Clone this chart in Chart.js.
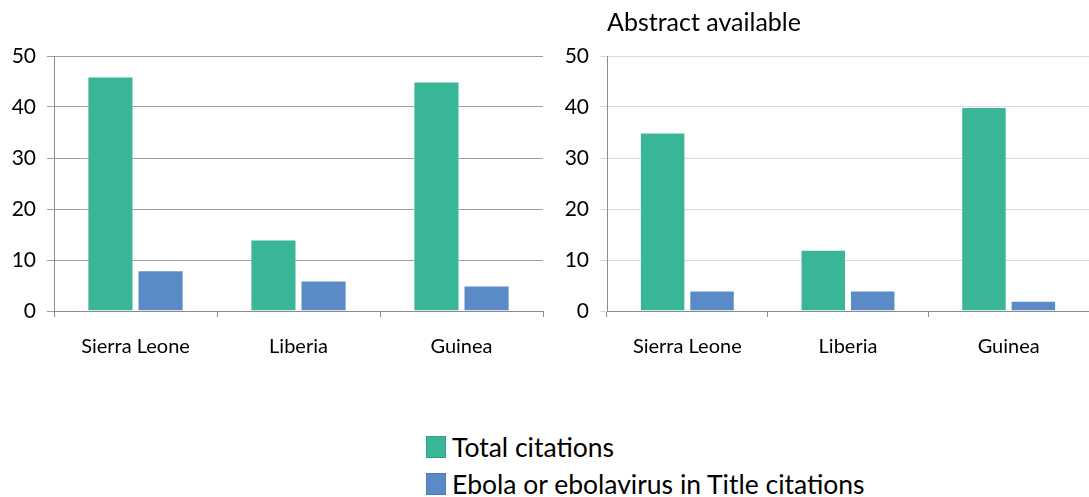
<!DOCTYPE html>
<html>
<head>
<meta charset="utf-8">
<script src="https://cdn.jsdelivr.net/npm/chart.js@4.4.1/dist/chart.umd.min.js"></script>
<style>
  body { margin: 0; background: #fff; width: 1089px; height: 497px; position: relative; overflow: hidden; font-family: Lato, sans-serif; }
  canvas { position: absolute; top: 0; }
  #allChart { left: 0; }
  #abstractChart { left: 548px; }
  #legend { position: absolute; left: 426px; top: 428px; }
  .item { display: flex; align-items: center; height: 37px; font-size: 26.5px; color: #000; }
  .swatch { width: 20px; height: 22px; margin-right: 6px; box-sizing: border-box; }
</style>
</head>
<body>
<canvas id="allChart" width="548" height="380"></canvas>
<canvas id="abstractChart" width="541" height="380"></canvas>
<div id="legend"></div>
<script>
// Countries and citation counts
const countries = ['Sierra Leone', 'Liberia', 'Guinea'];
const seriesNames = ['Total citations', 'Ebola or ebolavirus in Title citations'];
const seriesColors = ['#38b697', '#5a8bc7'];
const seriesEdges = ['#2fa487', '#4a7bb8'];

const totalAll = [46, 14, 45];
const titleAll = [8, 6, 5];
const totalAbstract = [35, 12, 40];
const titleAbstract = [4, 4, 2];

const yTicks = [0, 10, 20, 30, 40, 50];

function makeDatasets(total, title) {
    return [total, title].map(function(values, i) {
        return {
            label: seriesNames[i],
            data: values,
            backgroundColor: seriesColors[i],
            borderColor: 'rgba(255,255,255,0.45)',
            borderWidth: 1,
            categoryPercentage: 0.615,
            barPercentage: 0.92
        };
    });
}

function makeChart(id, total, title, opts) {
    const ctx = document.getElementById(id).getContext('2d');
    return new Chart(ctx, {
        type: 'bar',
        data: { labels: countries, datasets: makeDatasets(total, title) },
        options: {
            responsive: false,
            animation: false,
            devicePixelRatio: 1,
            layout: { padding: { top: opts.top, right: opts.right, bottom: 9, left: 0 } },
            plugins: {
                legend: { display: false },
                tooltip: { enabled: false },
                title: opts.title ? {
                    display: true,
                    text: opts.title,
                    align: 'start',
                    fullSize: false,
                    color: '#000',
                    font: { family: 'Lato', size: 25, weight: 'normal' },
                    padding: { top: 8, bottom: 18 }
                } : { display: false }
            },
            scales: {
                x: {
                    afterFit: function(scale) { scale.height = 60; },
                    grid: {
                        offset: true,
                        drawOnChartArea: false,
                        tickLength: 6,
                        color: '#8c8c8c'
                    },
                    border: { color: '#8c8c8c', width: 1 },
                    ticks: { color: '#000', font: { family: 'Lato', size: 20 }, padding: 18 }
                },
                y: {
                    min: 0,
                    max: 50,
                    afterFit: function(scale) { scale.width = opts.axisWidth; },
                    afterBuildTicks: function(scale) {
                        scale.ticks = yTicks.map(function(v) { return { value: v }; });
                    },
                    grid: { color: opts.gridColor, tickLength: 7 },
                    border: { color: '#8c8c8c', width: 1 },
                    ticks: { color: '#000', font: { family: 'Lato', size: 21 }, padding: 11 }
                }
            }
        }
    });
}

// Build the shared legend below both charts
function buildLegend() {
    const box = document.getElementById('legend');
    seriesNames.forEach(function(name, i) {
        const row = document.createElement('div');
        row.className = 'item';
        const sw = document.createElement('span');
        sw.className = 'swatch';
        sw.style.background = seriesColors[i];
        sw.style.border = '1px solid ' + seriesEdges[i];
        row.appendChild(sw);
        row.appendChild(document.createTextNode(name));
        box.appendChild(row);
    });
}

window.onload = function() {
    makeChart('allChart', totalAll, titleAll, { top: 56, right: 5, axisWidth: 54, gridColor: '#a0a0a0' });
    makeChart('abstractChart', totalAbstract, titleAbstract, { top: 0, right: 0, axisWidth: 59, gridColor: '#d9d9d9', title: 'Abstract available' });
    buildLegend();
};
</script>
</body>
</html>
